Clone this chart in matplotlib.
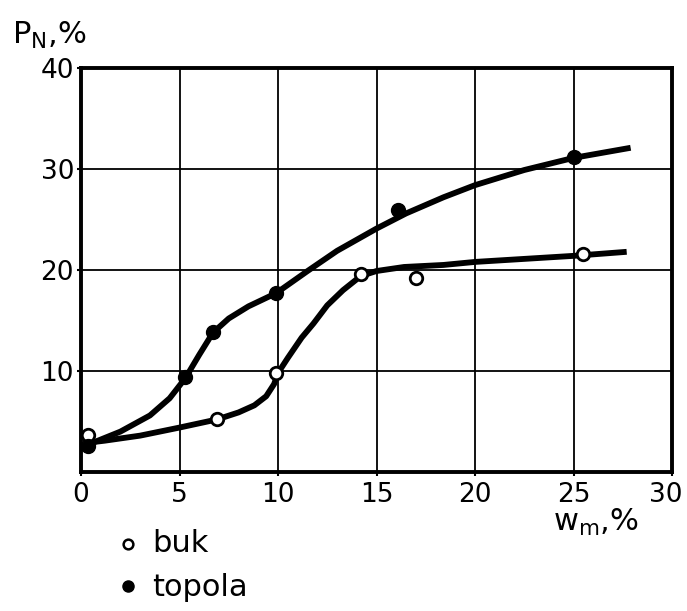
import matplotlib
matplotlib.use('Agg')
import matplotlib.pyplot as plt
import matplotlib.transforms as mtransforms
from matplotlib.lines import Line2D

# measured points
buk_x = [0.35, 6.9, 9.9, 14.2, 17.0, 25.5]
buk_y = [3.7, 5.2, 9.8, 19.6, 19.2, 21.6]
topola_x = [0.35, 5.3, 6.7, 9.9, 16.1, 25.0]
topola_y = [2.6, 9.4, 13.9, 17.7, 25.9, 31.2]

# hand-drawn fitted curves
buk_curve_x = [0.35, 1.2, 3.0, 5.0, 6.9, 8.0, 8.8, 9.4, 9.8, 10.0, 10.5, 11.2, 11.8,
               12.5, 13.3, 14.2, 15.0, 16.4, 18.4, 20.0, 25.0, 27.7]
buk_curve_y = [2.9, 3.1, 3.6, 4.4, 5.2, 5.9, 6.6, 7.5, 8.7, 9.8, 11.3, 13.3, 14.7,
               16.5, 18.0, 19.4, 19.9, 20.3, 20.5, 20.8, 21.4, 21.8]
topola_curve_x = [0.35, 2.0, 3.5, 4.5, 5.3, 6.0, 6.7, 7.5, 8.5, 9.9, 11.5, 13.0,
                  15.0, 16.5, 18.4, 20.0, 22.5, 25.0, 27.9]
topola_curve_y = [2.7, 4.0, 5.6, 7.3, 9.3, 11.6, 13.8, 15.2, 16.4, 17.7, 19.9, 21.9,
                  24.1, 25.6, 27.2, 28.4, 29.9, 31.1, 32.1]

xticks = [0, 5, 10, 15, 20, 25, 30]
yticks = [10, 20, 30, 40]

W, H = 687, 611
fig = plt.figure(figsize=(W / 100, H / 100), dpi=100)
ax = fig.add_axes([81 / W, 1 - 472 / H, (672 - 81) / W, (472 - 68) / H])

ax.set_xlim(0, 30)
ax.set_ylim(0, 40)
ax.set_xticks(xticks)
ax.set_yticks(yticks)
ax.set_xticklabels([str(t) for t in xticks])
ax.set_yticklabels([str(t) for t in yticks])
ax.tick_params(axis='both', direction='out', length=3, width=1.5, labelsize=19,
               color='black')
ax.tick_params(axis='x', pad=4)
ax.tick_params(axis='y', pad=2)
ax.grid(True, color='black', linewidth=1.3)
for s in ax.spines.values():
    s.set_linewidth(2.8)
ax.set_axisbelow(True)

# nudge the last x label inward, as in the original
last = ax.get_xticklabels()[-1]
last.set_transform(last.get_transform() +
                   mtransforms.ScaledTranslation(-6 / 100, 0, fig.dpi_scale_trans))

ax.plot(buk_curve_x, buk_curve_y, color='black', lw=4.2, solid_capstyle='butt',
        solid_joinstyle='round', zorder=3)
ax.plot(topola_curve_x, topola_curve_y, color='black', lw=4.2, solid_capstyle='butt',
        solid_joinstyle='round', zorder=3)
ax.plot(buk_x, buk_y, 'o', ms=9, mfc='white', mec='black', mew=2.0, zorder=4)
ax.plot(topola_x, topola_y, 'o', ms=10, mfc='black', mec='black', zorder=4)

fig.text(12 / W, 1 - 44 / H, r'$\mathregular{P_N}$,%', fontsize=22, ha='left', va='baseline')
fig.text(553 / W, 1 - 531 / H, r'$\mathregular{w_m}$,%', fontsize=22, ha='left', va='baseline')

# legend
fig.add_artist(Line2D([128 / W], [1 - 544 / H], marker='o', ms=7, mfc='white',
                      mec='black', mew=1.8, transform=fig.transFigure))
fig.add_artist(Line2D([128 / W], [1 - 586 / H], marker='o', ms=8, mfc='black',
                      mec='black', transform=fig.transFigure))
fig.text(152 / W, 1 - 543 / H, 'buk', fontsize=22, ha='left', va='center')
fig.text(152 / W, 1 - 588 / H, 'topola', fontsize=22, ha='left', va='center')

fig.savefig('out.png', dpi=100)
